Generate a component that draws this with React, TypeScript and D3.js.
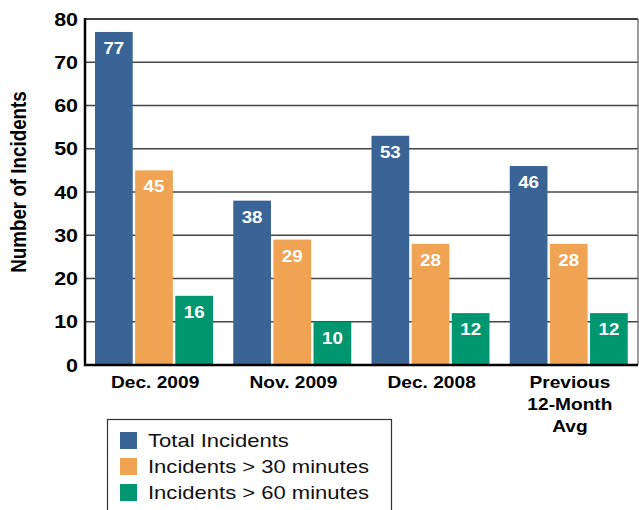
import { useEffect, useRef } from 'react'
import * as d3 from 'd3'

const categories = ['Dec. 2009', 'Nov. 2009', 'Dec. 2008', 'Previous\n12-Month\nAvg']
const series = ['Total Incidents', 'Incidents > 30 minutes', 'Incidents > 60 minutes']
const colors = ['#3a6496', '#f0a352', '#009670']
const totalIncidents = [77, 38, 53, 46]
const over30 = [45, 29, 28, 28]
const over60 = [16, 10, 12, 12]
const yTicks = [0, 10, 20, 30, 40, 50, 60, 70, 80]

// the original picture is a little wider than tall, so text is stretched too
const SX = 1.16

export default function App() {
  const svgRef = useRef<SVGSVGElement | null>(null)

  useEffect(() => {
    if (!svgRef.current) return
    const svg = d3.select(svgRef.current)
    svg.selectAll('*').remove()
    const font = 'Liberation Sans, Arial, sans-serif'

    const left = 85, right = 638, top = 19, bottom = 365
    const y = d3.scaleLinear().domain([0, 80]).range([bottom, top])
    const x0 = d3.scaleBand<string>().domain(categories).range([left, right])
    const x1 = d3.scaleBand<string>().domain(series).range([10, 128]).paddingInner(0.06)

    // grid
    svg.append('g').selectAll('line').data(yTicks.filter(t => t > 0)).enter().append('line')
      .attr('x1', left).attr('x2', right)
      .attr('y1', d => y(d)).attr('y2', d => y(d))
      .attr('stroke', (d) => d === 80 ? '#000' : '#444').attr('stroke-width', 1.3)

    // right border
    svg.append('line').attr('x1', right).attr('x2', right).attr('y1', top).attr('y2', bottom)
      .attr('stroke', '#666').attr('stroke-width', 1.3)

    const data = [totalIncidents, over30, over60]
    const groups = svg.append('g').selectAll('g').data(categories).enter().append('g')
      .attr('transform', d => `translate(${x0(d)},0)`)

    groups.each(function (cat, ci) {
      const g = d3.select(this)
      series.forEach((s, si) => {
        const v = data[si][ci]
        g.append('rect')
          .attr('x', x1(s)!).attr('width', x1.bandwidth())
          .attr('y', y(v)).attr('height', bottom - y(v))
          .attr('fill', colors[si])
        g.append('text')
          .attr('transform', `translate(${x1(s)! + x1.bandwidth() / 2},${y(v) + 22}) scale(1.1,1)`)
          .attr('text-anchor', 'middle').attr('fill', '#fff')
          .attr('font-family', font).attr('font-weight', 'bold').attr('font-size', 17)
          .text(v)
      })
      cat.split('\n').forEach((l, i) => {
        g.append('text')
          .attr('transform', `translate(${x0.bandwidth() / 2 + 1},${388 + i * 22}) scale(${SX},1)`)
          .attr('text-anchor', 'middle')
          .attr('font-family', font).attr('font-weight', 'bold').attr('font-size', 16.5)
          .text(l)
      })
    })

    // axes
    svg.append('line').attr('x1', left).attr('x2', left).attr('y1', top - 1).attr('y2', bottom + 1)
      .attr('stroke', '#000').attr('stroke-width', 2.5)
    svg.append('line').attr('x1', left - 1).attr('x2', right).attr('y1', bottom).attr('y2', bottom)
      .attr('stroke', '#000').attr('stroke-width', 2.5)

    svg.append('g').selectAll('text').data(yTicks).enter().append('text')
      .attr('transform', d => `translate(78,${y(d) + 6.6}) scale(${SX},1)`)
      .attr('text-anchor', 'end').attr('font-family', font).attr('font-weight', 'bold').attr('font-size', 18.5)
      .text(d => d)

    svg.append('text')
      .attr('transform', `translate(26,182) scale(${SX},1) rotate(-90)`)
      .attr('text-anchor', 'middle').attr('font-family', font).attr('font-weight', 'bold').attr('font-size', 18.8)
      .text('Number of Incidents')

    // legend
    svg.append('rect').attr('x', 107.5).attr('y', 419.5).attr('width', 284).attr('height', 100)
      .attr('fill', '#fff').attr('stroke', '#333').attr('stroke-width', 1.2)
    const lg = svg.append('g').selectAll('g').data(series).enter().append('g')
      .attr('transform', (d, i) => `translate(120,${432 + i * 26})`)
    lg.append('rect').attr('width', 17).attr('height', 17).attr('fill', (d, i) => colors[i])
    lg.append('text').attr('transform', `translate(28,15) scale(${SX},1)`)
      .attr('font-family', font).attr('font-size', 19).attr('fill', '#111')
      .text(d => d)
  }, [])

  return (
    <svg ref={svgRef} width={639} height={510}
      style={{ position: 'absolute', left: 0, top: 0, background: '#fff' }} />
  )
}
